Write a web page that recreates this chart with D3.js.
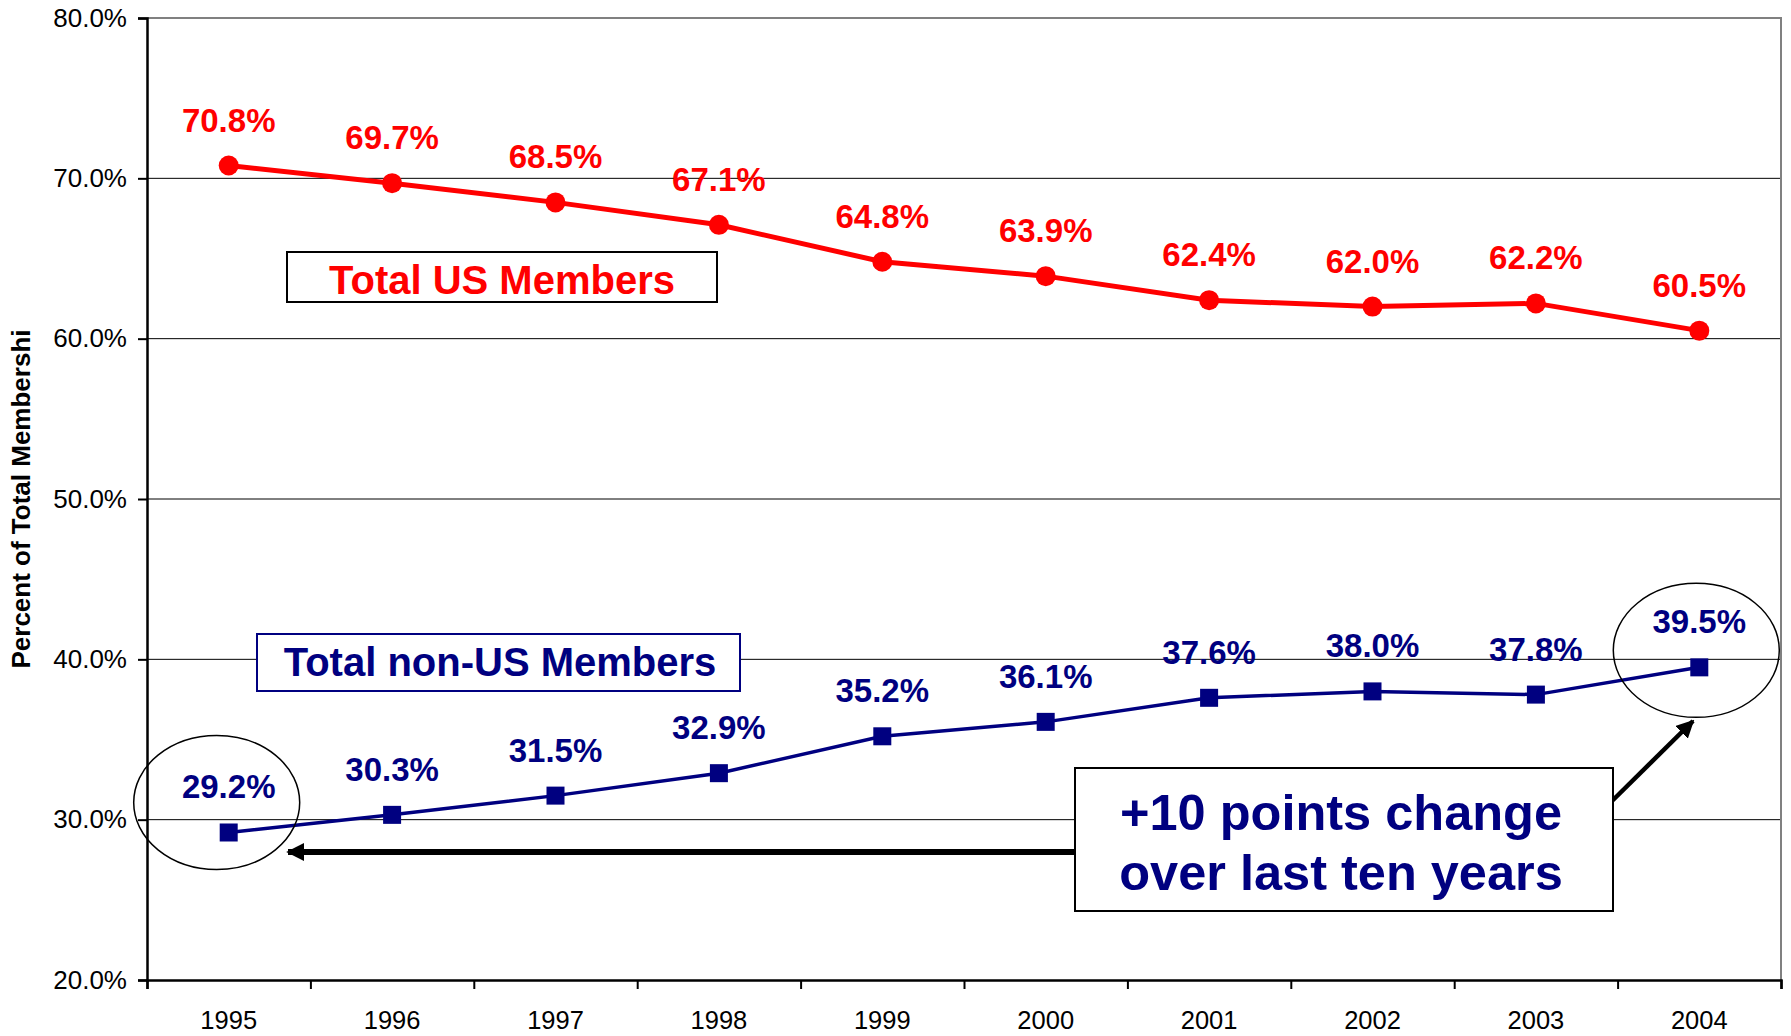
<html>
<head>
<script src="https://d3js.org/d3.v7.min.js"></script>
<style>
body { margin: 0; background: #fff; }
text { font-family: "Liberation Sans", Arial, sans-serif; }
</style>
</head>
<body>
<svg id="chart" width="1791" height="1036"></svg>
<script>
// data
var years = ["1995","1996","1997","1998","1999","2000","2001","2002","2003","2004"];
var usMembers = [70.8, 69.7, 68.5, 67.1, 64.8, 63.9, 62.4, 62.0, 62.2, 60.5];
var nonUsMembers = [29.2, 30.3, 31.5, 32.9, 35.2, 36.1, 37.6, 38.0, 37.8, 39.5];
var yTicks = [20, 30, 40, 50, 60, 70, 80];

var plotL = 147, plotR = 1781, plotT = 18, plotB = 980;
var svg = d3.select("#chart");

var x = d3.scaleBand().domain(years).range([plotL, plotR]);
var xb = d3.scaleLinear().domain([0, years.length]).range([plotL, plotR]);
var y = d3.scaleLinear().domain([20, 80]).range([plotB, plotT]);
var cx = function(i){ return x(years[i]) + x.bandwidth()/2; };
var fmt = function(v){ return v.toFixed(1) + "%"; };

// gridlines
svg.append("g").selectAll("line").data(yTicks.filter(function(t){ return t > 20 && t < 80; }))
  .enter().append("line")
  .attr("x1", plotL).attr("x2", plotR)
  .attr("y1", function(d){ return y(d); }).attr("y2", function(d){ return y(d); })
  .attr("stroke", "#000").attr("stroke-width", 1);

// gray frame top + right
svg.append("path")
  .attr("d", "M" + plotL + "," + y(80) + "H" + plotR + "V" + plotB)
  .attr("fill", "none").attr("stroke", "#808080").attr("stroke-width", 2);

// y axis
var ya = svg.append("g").attr("transform", "translate(" + plotL + ",0)")
  .call(d3.axisLeft(y).tickValues(yTicks).tickSize(9).tickPadding(11).tickFormat(fmt));
ya.select(".domain").attr("stroke-width", 2.5);
ya.selectAll(".tick line").attr("stroke-width", 2);
ya.selectAll("text").style("font-size", "26px").attr("fill", "#000");

// x axis: ticks at band boundaries, labels at centres
var xt = svg.append("g").attr("transform", "translate(0," + plotB + ")")
  .call(d3.axisBottom(xb).ticks(years.length).tickSize(9).tickFormat(""));
xt.select(".domain").attr("stroke-width", 2.5);
xt.selectAll(".tick line").attr("stroke-width", 2);
var xl = svg.append("g").attr("transform", "translate(0," + plotB + ")")
  .call(d3.axisBottom(x).tickSize(0).tickPadding(31));
xl.select(".domain").remove();
xl.selectAll("text").style("font-size", "25.5px").attr("fill", "#000");

// y axis title
svg.append("text")
  .attr("transform", "translate(30," + y(50) + ") rotate(-90)")
  .attr("text-anchor", "middle")
  .style("font-size", "26px").style("font-weight", "bold")
  .text("Percent of Total Membershi");

// series boxes
svg.append("rect").attr("x", 287).attr("y", 252).attr("width", 430).attr("height", 50)
  .attr("fill", "#fff").attr("stroke", "#000").attr("stroke-width", 2);
svg.append("text").attr("x", 502).attr("y", 294).attr("text-anchor", "middle")
  .style("font-size", "40px").style("font-weight", "bold").attr("fill", "#ff0000")
  .text("Total US Members");

svg.append("rect").attr("x", 257).attr("y", 634).attr("width", 483).attr("height", 57)
  .attr("fill", "#fff").attr("stroke", "#000080").attr("stroke-width", 2);
svg.append("text").attr("x", 500).attr("y", 676).attr("text-anchor", "middle")
  .style("font-size", "40px").style("font-weight", "bold").attr("fill", "#000080")
  .text("Total non-US Members");

// red series
var line = d3.line().x(function(d, i){ return cx(i); }).y(function(d){ return y(d); });
svg.append("path").datum(usMembers).attr("d", line)
  .attr("fill", "none").attr("stroke", "#ff0000").attr("stroke-width", 5);
svg.append("g").selectAll("circle").data(usMembers).enter().append("circle")
  .attr("cx", function(d, i){ return cx(i); }).attr("cy", function(d){ return y(d); })
  .attr("r", 10).attr("fill", "#ff0000");
svg.append("g").selectAll("text").data(usMembers).enter().append("text")
  .attr("x", function(d, i){ return cx(i); }).attr("y", function(d){ return y(d) - 34; })
  .attr("text-anchor", "middle").style("font-size", "33px").style("font-weight", "bold")
  .attr("fill", "#ff0000").text(fmt);

// blue series
svg.append("path").datum(nonUsMembers).attr("d", line)
  .attr("fill", "none").attr("stroke", "#000080").attr("stroke-width", 3.5);
svg.append("g").selectAll("rect").data(nonUsMembers).enter().append("rect")
  .attr("x", function(d, i){ return cx(i) - 9; }).attr("y", function(d){ return y(d) - 9; })
  .attr("width", 18).attr("height", 18).attr("fill", "#000080");
svg.append("g").selectAll("text").data(nonUsMembers).enter().append("text")
  .attr("x", function(d, i){ return cx(i); }).attr("y", function(d){ return y(d) - 34; })
  .attr("text-anchor", "middle").style("font-size", "33px").style("font-weight", "bold")
  .attr("fill", "#000080").text(fmt);

// ellipses round first and last non-US points
var last = nonUsMembers.length - 1;
svg.append("ellipse").attr("cx", cx(0) - 12).attr("cy", y(nonUsMembers[0]) - 30)
  .attr("rx", 83).attr("ry", 67).attr("fill", "none").attr("stroke", "#000").attr("stroke-width", 1.5);
svg.append("ellipse").attr("cx", cx(last) - 3).attr("cy", y(nonUsMembers[last]) - 17)
  .attr("rx", 83).attr("ry", 67).attr("fill", "none").attr("stroke", "#000").attr("stroke-width", 1.5);

// arrows
svg.append("defs").append("marker").attr("id", "head")
  .attr("viewBox", "0 0 10 10").attr("refX", 9).attr("refY", 5)
  .attr("markerUnits", "userSpaceOnUse").attr("markerWidth", 18).attr("markerHeight", 18)
  .attr("orient", "auto")
  .append("path").attr("d", "M0,0L10,5L0,10z").attr("fill", "#000");
svg.append("line").attr("x1", 1075).attr("y1", 852).attr("x2", 288).attr("y2", 852)
  .attr("stroke", "#000").attr("stroke-width", 6).attr("marker-end", "url(#head)");
svg.append("line").attr("x1", 1611).attr("y1", 802).attr("x2", 1693).attr("y2", 721)
  .attr("stroke", "#000").attr("stroke-width", 4.5).attr("marker-end", "url(#head)");

// callout box
svg.append("rect").attr("x", 1075).attr("y", 768).attr("width", 538).attr("height", 143)
  .attr("fill", "#fff").attr("stroke", "#000").attr("stroke-width", 2);
var callout = svg.append("text").attr("text-anchor", "middle")
  .style("font-size", "50.5px").style("font-weight", "bold").attr("fill", "#000080");
callout.append("tspan").attr("x", 1341).attr("y", 830).text("+10 points change");
callout.append("tspan").attr("x", 1341).attr("y", 890).text("over last ten years");
</script>
</body>
</html>
